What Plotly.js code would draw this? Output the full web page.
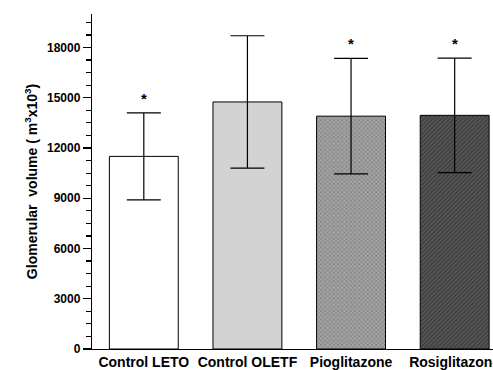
<!DOCTYPE html>
<html><head><meta charset="utf-8">
<script src="https://cdn.plot.ly/plotly-3.0.1.min.js"></script>
<style>html,body{margin:0;padding:0;background:#fff;overflow:hidden;width:493px;height:370px;}#chart{width:530px;height:370px;}</style>
</head><body><div id="chart"></div>
<script>
const categories = ["Control LETO", "Control OLETF", "Pioglitazone", "Rosiglitazone"];
const values = [11500, 14750, 13900, 13950];
const errors = [2600, 3950, 3450, 3420];
const significant = [true, false, true, true];
const yTicks = [0, 3000, 6000, 9000, 12000, 15000, 18000];

const fills = ['#ffffff', '#d3d3d3', '#a4a4a4', '#565656'];
const patShapes = ['', '', 'x', '/'];
const patFg = ['#000000', '#000000', '#4a4a4a', '#161616'];

const traces = categories.map((c, i) => ({
  type: 'bar',
  x: [i],
  y: [values[i]],
  width: 0.665,
  marker: {
    color: fills[i],
    line: {color: '#000', width: 1},
    pattern: {shape: patShapes[i], fgcolor: patFg[i], fillmode: 'overlay', size: 3, solidity: 0.35}
  },
  error_y: {type: 'data', array: [errors[i]], visible: true, color: '#000', thickness: 1.2, width: 17},
  hoverinfo: 'none'
}));

const annotations = [];
values.forEach((v, i) => {
  if (significant[i]) annotations.push({
    x: i, y: v + errors[i] + 250, xref: 'x', yref: 'y', text: '<b>*</b>', showarrow: false,
    yanchor: 'bottom', font: {size: 15, color: '#000', family: 'Liberation Sans, Arial'}
  });
});

const layout = {
  width: 530, height: 370,
  margin: {l: 92, r: 37, t: 14, b: 21},
  paper_bgcolor: '#fff', plot_bgcolor: '#fff',
  showlegend: false, barmode: 'overlay',
  font: {family: 'Liberation Sans, Arial, sans-serif', size: 12, color: '#000'},
  xaxis: {
    range: [-0.5, 3.37], tickvals: [0, 1, 2, 3], ticktext: categories.map(c => '<b>' + c + '</b>'),
    showline: true, linecolor: '#000', linewidth: 1.2, ticks: '', showgrid: false, zeroline: false,
    tickfont: {size: 14}
  },
  yaxis: {
    range: [0, 20000], tickvals: yTicks, ticktext: yTicks.map(t => '<b>' + t + '</b>'),
    showline: true, linecolor: '#000', linewidth: 1.2, ticks: 'outside', ticklen: 8, tickwidth: 1.2, tickcolor: '#000',
    minor: {dtick: 750, tick0: 0, ticks: 'outside', ticklen: 5, tickwidth: 1.2, tickcolor: '#000', showgrid: false},
    showgrid: false, zeroline: false, tickfont: {size: 12},
    title: {text: '<b>Glomerular&nbsp;&nbsp;volume ( m<sup>3</sup>x10<sup>3</sup>)</b>', font: {size: 14}, standoff: 6}
  },
  annotations: annotations
};

Plotly.newPlot('chart', traces, layout, {displayModeBar: false, staticPlot: true});
</script></body></html>
